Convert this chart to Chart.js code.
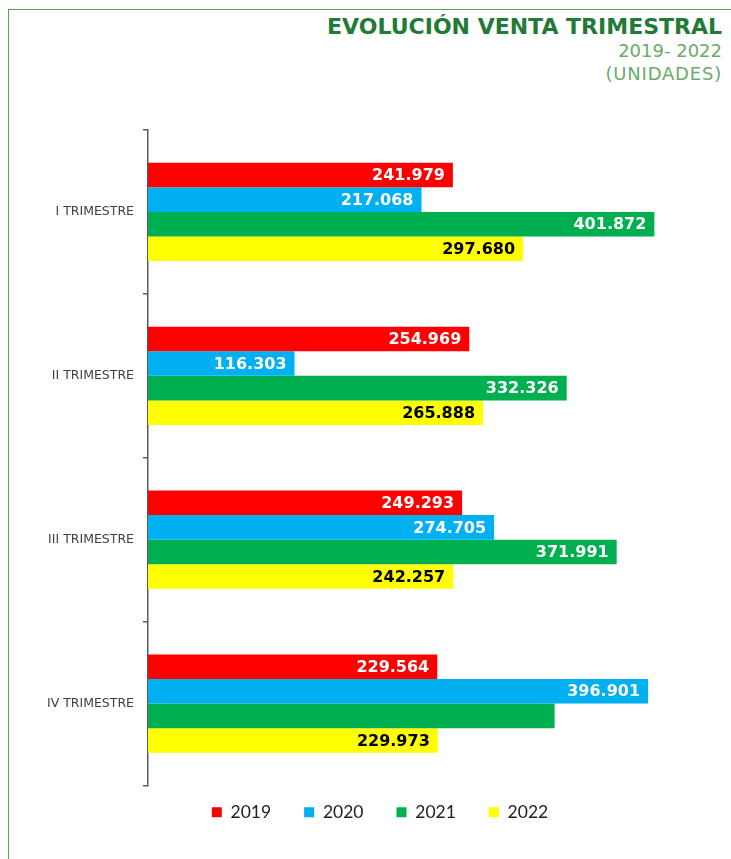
<!DOCTYPE html>
<html>
<head>
<meta charset="utf-8">
<script src="https://cdn.jsdelivr.net/npm/chart.js@4.4.1/dist/chart.umd.min.js"></script>
<style>
  body { margin: 0; background: #fff; width: 731px; height: 859px; overflow: hidden; position: relative; }
  #frame { position: absolute; left: 8px; top: 9px; right: 0; bottom: 0; border-top: 1.5px solid #55a558; border-left: 1.5px solid #55a558; }
  .titulo { position: absolute; right: 9px; text-align: right; font-family: "DejaVu Sans", sans-serif; white-space: nowrap; }
  #t1 { top: 14px; font-size: 22px; font-weight: bold; color: #217a36; }
  #t2 { top: 40px; font-size: 18px; color: #6aab6a; }
  #t3 { top: 63px; font-size: 18px; letter-spacing: 0.8px; color: #6aab6a; }
  #wrap { position: absolute; left: 10px; top: 110px; width: 721px; height: 749px; }
</style>
</head>
<body>
<div id="frame"></div>
<div class="titulo" id="t1">EVOLUCIÓN VENTA TRIMESTRAL</div>
<div class="titulo" id="t2">2019- 2022</div>
<div class="titulo" id="t3">(UNIDADES)</div>
<div id="wrap"><canvas id="ventasChart"></canvas></div>
<script>
const ctx = document.getElementById('ventasChart');

// datos
const trimestres = ['I TRIMESTRE', 'II TRIMESTRE', 'III TRIMESTRE', 'IV TRIMESTRE'];
const anios = ['2019', '2020', '2021', '2022'];
const ventas2019 = [241979, 254969, 249293, 229564];
const ventas2020 = [217068, 116303, 274705, 396901];
const ventas2021 = [401872, 332326, 371991, 322700];
const ventas2022 = [297680, 265888, 242257, 229973];
const colores = ['#ff0000', '#00b0f0', '#00b050', '#ffff00'];
const coloresTexto = ['#ffffff', '#ffffff', '#ffffff', '#000000'];
// la barra verde del IV trimestre no lleva etiqueta en el original
const sinEtiqueta = [[2, 3]];

function formato(n) {
  return String(n).replace(/\B(?=(\d{3})+(?!\d))/g, '.');
}

const etiquetas = {
  id: 'etiquetas',
  afterDatasetsDraw(chart) {
    const c = chart.ctx;
    c.save();
    c.font = 'bold 16px "DejaVu Sans"';
    c.textAlign = 'right';
    c.textBaseline = 'middle';
    chart.data.datasets.forEach((ds, i) => {
      chart.getDatasetMeta(i).data.forEach((bar, j) => {
        if (sinEtiqueta.some(p => p[0] == i && p[1] == j)) return;
        c.fillStyle = coloresTexto[i];
        c.fillText(formato(ds.data[j]), bar.x - 8, bar.y + 1);
      });
    });
    c.restore();
  }
};

// la leyenda queda mas pegada al eje que el padding que separa los items
const subirLeyenda = {
  id: 'subirLeyenda',
  afterLayout(chart) {
    chart.legend.top -= 15;
    chart.legend.bottom -= 15;
  }
};

const series = [ventas2019, ventas2020, ventas2021, ventas2022];

const chart = new Chart(ctx, {
  type: 'bar',
  data: {
    labels: trimestres,
    datasets: series.map((d, i) => ({
      label: anios[i],
      data: d,
      backgroundColor: colores[i],
      borderWidth: 0,
      categoryPercentage: 0.6,
      barPercentage: 1.0
    }))
  },
  options: {
    indexAxis: 'y',
    responsive: true,
    maintainAspectRatio: false,
    animation: false,
    layout: { padding: { left: 35, right: 16, top: 20, bottom: 13 } },
    scales: {
      x: {
        display: false,
        min: 0,
        max: 450000
      },
      y: {
        afterFit(scale) { scale.width = 103; },
        grid: {
          offset: true,
          drawOnChartArea: false,
          tickLength: 5,
          color: '#595959',
          lineWidth: 1.5
        },
        border: { color: '#595959', width: 1.5 },
        ticks: {
          color: '#404040',
          padding: 9,
          font: { family: 'DejaVu Sans', size: 12.5 }
        }
      }
    },
    plugins: {
      legend: {
        position: 'bottom',
        labels: {
          boxWidth: 10,
          boxHeight: 10,
          padding: 33,
          color: '#222222',
          font: { family: 'Lato', size: 17.5 }
        }
      },
      tooltip: { enabled: false }
    }
  },
  plugins: [etiquetas, subirLeyenda]
});
</script>
</body>
</html>
